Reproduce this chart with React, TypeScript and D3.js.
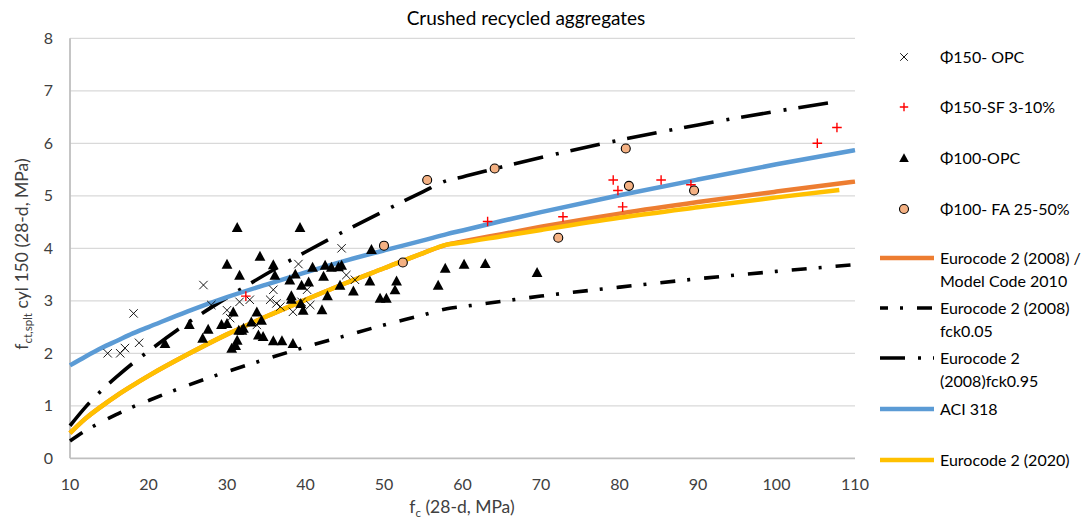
import React from "react";
import * as d3 from "d3";

const title = "Crushed recycled aggregates";
const xTicks = [10, 20, 30, 40, 50, 60, 70, 80, 90, 100, 110];
const yTicks = [0, 1, 2, 3, 4, 5, 6, 7, 8];

// scatter series [fc, fct]
const opc150: [number, number][] = [
  [14.8, 2.0], [16.4, 2.0], [17.0, 2.1], [18.8, 2.2], [18.1, 2.76], [27.0, 3.3], [28.0, 2.92],
  [30.0, 2.82], [30.4, 2.67], [31.6, 2.98], [32.9, 3.02], [33.8, 2.54], [35.5, 3.02], [35.9, 3.21],
  [36.3, 2.95], [36.8, 2.89], [38.4, 2.79], [39.1, 3.7], [39.5, 2.98], [40.2, 3.21], [40.6, 2.92],
  [44.6, 4.0], [45.2, 3.49], [46.3, 3.4],
];
const sf150: [number, number][] = [
  [32.4, 3.09], [63.2, 4.51], [72.8, 4.6], [79.2, 5.3], [79.8, 5.1], [80.4, 4.79], [85.3, 5.3],
  [89.1, 5.21], [105.2, 6.0], [107.7, 6.3],
];
const opc100: [number, number][] = [
  [22.1, 2.19], [25.2, 2.55], [26.9, 2.29], [27.6, 2.46], [29.3, 2.55], [30.0, 2.57], [30.0, 3.7],
  [30.6, 2.1], [30.8, 2.79], [31.1, 2.15], [31.3, 2.25], [31.3, 4.4], [31.5, 2.44], [31.6, 3.49],
  [31.9, 2.44], [32.1, 2.48], [33.1, 2.6], [33.8, 2.79], [34.0, 2.35], [34.2, 3.85], [34.4, 2.63],
  [34.6, 2.32], [35.9, 3.69], [35.9, 2.24], [36.1, 3.49], [37.0, 2.24], [38.0, 3.4], [38.2, 3.1],
  [38.2, 3.03], [38.4, 2.19], [38.7, 3.51], [39.3, 4.4], [39.4, 2.95], [39.5, 3.3], [39.7, 2.82],
  [40.4, 3.36], [40.9, 3.64], [42.1, 2.83], [42.3, 3.47], [42.5, 3.68], [42.8, 3.1], [43.3, 3.64],
  [44.2, 3.65], [44.6, 3.68], [44.4, 3.3], [46.1, 3.19], [48.4, 3.98], [48.2, 3.38], [49.5, 3.05],
  [50.3, 3.05], [51.4, 3.21], [51.6, 3.38], [56.9, 3.3], [57.8, 3.62], [60.2, 3.7], [62.9, 3.71],
  [69.5, 3.54],
];
const fa100: [number, number][] = [
  [50.0, 4.05], [52.4, 3.73], [55.5, 5.3], [64.1, 5.52], [72.2, 4.2], [80.8, 5.9], [81.2, 5.19],
  [89.5, 5.1],
];

// model curves
const curveX = [10, 12, 14, 16, 18, 20, 25, 30, 35, 40, 45, 50, 55, 58, 60, 65, 70, 80, 90, 100, 110];
const ec2008 = [0.48, 0.76, 0.99, 1.2, 1.39, 1.57, 1.98, 2.36, 2.7, 3.02, 3.33, 3.62, 3.91, 4.07, 4.13, 4.27, 4.41, 4.66, 4.88, 5.08, 5.27];
const ec2008low = [0.33, 0.53, 0.69, 0.84, 0.98, 1.1, 1.39, 1.65, 1.89, 2.12, 2.33, 2.54, 2.73, 2.85, 2.89, 2.99, 3.09, 3.26, 3.42, 3.56, 3.69];
const aci318 = [1.77, 1.94, 2.1, 2.24, 2.38, 2.5, 2.8, 3.07, 3.31, 3.54, 3.76, 3.96, 4.15, 4.27, 4.34, 4.52, 4.69, 5.01, 5.31, 5.6, 5.87];
const curveXb = [10, 12, 14, 16, 18, 20, 25, 30, 35, 40, 45, 50, 55, 58, 60, 65, 70, 80, 90, 100, 108];
const ec2008high = [0.62, 0.98, 1.29, 1.56, 1.81, 2.04, 2.58, 3.06, 3.51, 3.93, 4.33, 4.71, 5.08, 5.29, 5.36, 5.55, 5.73, 6.06, 6.35, 6.61, 6.8];
const ec2020 = [0.48, 0.76, 0.99, 1.2, 1.39, 1.57, 1.98, 2.36, 2.7, 3.02, 3.33, 3.62, 3.91, 4.07, 4.11, 4.23, 4.35, 4.58, 4.78, 4.97, 5.11];

const FONT = "Lato, 'Open Sans', sans-serif";
const W = 1091, H = 519;
const x = d3.scaleLinear().domain([10, 110]).range([70, 855]);
const y = d3.scaleLinear().domain([0, 8]).range([458.3, 38.3]);

const ORANGE = "#ED7D31", BLUE = "#5B9BD5", YELLOW = "#FFC000", PEACH = "#F4B183", RED = "#FF0000";
const DASH_LOW = "15 12 3 14";
const DASH_HIGH = "30 13 3 12";
const TXT = "#404040";

function linePath(xs: number[], ys: number[]) {
  const g = d3.line<number>().x((_, i) => x(xs[i])).y((v) => y(v)).curve(d3.curveMonotoneX);
  return g(ys) || "";
}

const Cross = ({ cx, cy, s = 4.2 }: any) => (
  <path d={`M${cx - s},${cy - s}L${cx + s},${cy + s}M${cx - s},${cy + s}L${cx + s},${cy - s}`} stroke="#000" strokeWidth={0.9} fill="none" />
);
const Plus = ({ cx, cy, s = 4.8 }: any) => (
  <path d={`M${cx - s},${cy}L${cx + s},${cy}M${cx},${cy - s}L${cx},${cy + s}`} stroke={RED} strokeWidth={1.4} fill="none" />
);
const Tri = ({ cx, cy, s = 5.4 }: any) => (
  <path d={`M${cx},${cy - s}L${cx + s},${cy + s * 0.85}L${cx - s},${cy + s * 0.85}Z`} fill="#000" />
);
const Circ = ({ cx, cy }: any) => <circle cx={cx} cy={cy} r={4.5} fill={PEACH} stroke="#000" strokeWidth={1.1} />;

export default function App() {
  const legendLines = [
    { y: 258, color: ORANGE, w: 4.5, dash: undefined, off: 0, text: ["Eurocode 2 (2008) /", "Model Code 2010"] },
    { y: 308, color: "#000", w: 3.6, dash: DASH_LOW, off: 7, text: ["Eurocode 2 (2008)", "fck0.05"] },
    { y: 358, color: "#000", w: 3.6, dash: DASH_HIGH, off: 5, text: ["Eurocode 2", "(2008)fck0.95"] },
    { y: 409, color: BLUE, w: 4.5, dash: undefined, off: 0, text: ["ACI 318"] },
    { y: 460, color: YELLOW, w: 4.5, dash: undefined, off: 0, text: ["Eurocode 2 (2020)"] },
  ];
  return (
    <svg width={W} height={H} style={{ position: "absolute", left: 0, top: 0, background: "#fff" }} fontFamily={FONT}>
      <rect width={W} height={H} fill="#fff" />
      <text x={526} y={25} fontSize={19} textAnchor="middle" fill="#000">{title}</text>
      {/* gridlines */}
      {yTicks.filter((t) => t > 0).map((t) => (
        <line key={t} x1={70} x2={855} y1={y(t)} y2={y(t)} stroke="#D9D9D9" strokeWidth={1.2} />
      ))}
      <line x1={70} x2={855} y1={y(0)} y2={y(0)} stroke="#BFBFBF" strokeWidth={1.8} />
      <line x1={70} x2={70} y1={y(8)} y2={y(0)} stroke="#BFBFBF" strokeWidth={1.8} />
      {yTicks.map((t) => (
        <text key={t} x={53} y={y(t) + 5.5} fontSize={16} textAnchor="end" fill={TXT}>{t}</text>
      ))}
      {xTicks.map((t) => (
        <text key={t} x={x(t)} y={490} fontSize={16} textAnchor="middle" fill={TXT}>{t}</text>
      ))}
      <text x={462} y={513} fontSize={17.5} textAnchor="middle" fill={TXT}>
        f<tspan fontSize={11.5} dy={4}>c</tspan><tspan dy={-4}> (28-d, MPa)</tspan>
      </text>
      <text transform={`translate(28,254) rotate(-90)`} fontSize={17.5} textAnchor="middle" fill={TXT}>
        f<tspan fontSize={11.5} dy={4}>ct,splt</tspan><tspan dy={-4}> cyl 150 (28-d, MPa)</tspan>
      </text>

      {/* curves */}
      <path d={linePath(curveX, ec2008low)} fill="none" stroke="#000" strokeWidth={3.6} strokeDasharray={DASH_LOW} />
      <path d={linePath(curveXb, ec2008high)} fill="none" stroke="#000" strokeWidth={3.6} strokeDasharray={DASH_HIGH} />
      <path d={linePath(curveX, aci318)} fill="none" stroke={BLUE} strokeWidth={4.5} />
      <path d={linePath(curveX, ec2008)} fill="none" stroke={ORANGE} strokeWidth={4.5} />
      <path d={linePath(curveXb, ec2020)} fill="none" stroke={YELLOW} strokeWidth={4.5} />

      {/* markers */}
      {opc150.map((d, i) => <Cross key={"a" + i} cx={x(d[0])} cy={y(d[1])} />)}
      {sf150.map((d, i) => <Plus key={"b" + i} cx={x(d[0])} cy={y(d[1])} />)}
      {opc100.map((d, i) => <Tri key={"c" + i} cx={x(d[0])} cy={y(d[1])} />)}
      {fa100.map((d, i) => <Circ key={"d" + i} cx={x(d[0])} cy={y(d[1])} />)}

      {/* legend */}
      <Cross cx={904} cy={57} s={3.8} />
      <text x={940} y={62.5} fontSize={16} fill="#000">Φ150- OPC</text>
      <Plus cx={904} cy={107} s={4.2} />
      <text x={940} y={112.5} fontSize={16} fill="#000">Φ150-SF 3-10%</text>
      <Tri cx={904} cy={158} s={4.8} />
      <text x={940} y={163.5} fontSize={16} fill="#000">Φ100-OPC</text>
      <Circ cx={904} cy={209} />
      <text x={940} y={214.5} fontSize={16} fill="#000">Φ100- FA 25-50%</text>
      {legendLines.map((l, i) => (
        <g key={i}>
          <line x1={880} x2={934} y1={l.y} y2={l.y} stroke={l.color} strokeWidth={l.w}
            strokeDasharray={l.dash} strokeDashoffset={l.off} />
          {l.text.map((t, j) => (
            <text key={j} x={940} y={l.y + 5.5 + j * 23} fontSize={16} fill="#000">{t}</text>
          ))}
        </g>
      ))}
    </svg>
  );
}
